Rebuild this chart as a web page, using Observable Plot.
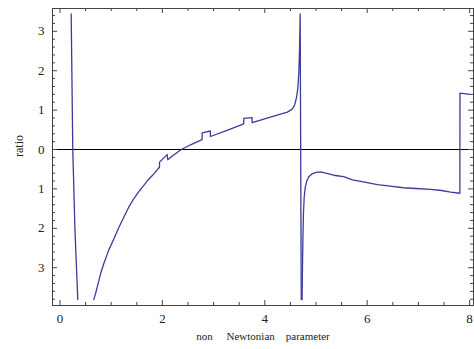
<!DOCTYPE html>
<html>
<head>
<meta charset="utf-8">
<script src="https://cdn.jsdelivr.net/npm/d3@7"></script>
<script src="https://cdn.jsdelivr.net/npm/@observablehq/plot@0.6"></script>
<style>
  html, body { margin: 0; padding: 0; background: #fff; }
</style>
</head>
<body>
<div id="chart"></div>
<script>
// ---- data ----
const branch1X = [0.219, 0.250, 0.293, 0.348];
const branch1Y = [3.44, 0.00, -2.06, -3.81];

const branch2X = [0.660, 0.70, 0.75, 0.80, 0.855, 0.95, 1.051, 1.15, 1.246, 1.34, 1.441, 1.54, 1.637, 1.73, 1.832, 1.943, 1.945, 2.094, 2.105, 2.20, 2.37, 2.55, 2.775, 2.777, 2.937, 2.939, 3.25, 3.588, 3.590, 3.752, 3.754, 4.11, 4.44, 4.53, 4.58, 4.62, 4.645, 4.665, 4.678, 4.691, 4.712];
const branch2Y = [-3.81, -3.63, -3.38, -3.12, -2.90, -2.56, -2.27, -1.98, -1.72, -1.47, -1.25, -1.07, -0.91, -0.76, -0.62, -0.45, -0.32, -0.13, -0.26, -0.16, 0.00, 0.12, 0.25, 0.42, 0.47, 0.33, 0.48, 0.65, 0.79, 0.81, 0.68, 0.82, 0.95, 1.02, 1.12, 1.32, 1.55, 1.95, 2.51, 3.44, -3.81];

const branch3X = [4.728, 4.736, 4.745, 4.755, 4.770, 4.79, 4.82, 4.86, 4.92, 5.00, 5.09, 5.25, 5.38, 5.54, 5.71, 5.95, 6.20, 6.45, 6.71, 6.95, 7.24, 7.45, 7.63, 7.81, 7.812, 8.00];
const branch3Y = [-3.81, -3.00, -2.20, -1.62, -1.20, -0.96, -0.80, -0.69, -0.62, -0.58, -0.57, -0.62, -0.66, -0.69, -0.77, -0.83, -0.89, -0.93, -0.97, -0.99, -1.01, -1.04, -1.08, -1.11, 1.43, 1.40];

const xMajorTicks = [0, 2, 4, 6, 8];
const xTickLabels = ["0", "2", "4", "6", "8"];
const yMajorTicks = [3, 2, 1, 0, -1, -2, -3];
const yTickLabels = ["3", "2", "1", "0", "1", "2", "3"];
const xLabel = "non     Newtonian    parameter";
const yLabel = "ratio";

// ---- build rows ----
function rows(xs, ys, id) { return xs.map((x, i) => ({x, y: ys[i], id})); }
const curve = [
  ...rows(branch1X, branch1Y, "b1"),
  ...rows(branch2X, branch2Y, "b2"),
  ...rows(branch3X, branch3Y, "b3")
];
const xMinor = d3.range(0, 8.01, 0.5).filter(v => !xMajorTicks.includes(v));
const yMinor = d3.range(-3.8, 3.45, 0.2).map(v => Math.round(v * 10) / 10).filter(v => !yMajorTicks.includes(v));

const W = 474, H = 349;
const mT = 8, mR = 1, mB = 44, mL = 52;
const fh = H - mT - mB, fw = W - mL - mR;
const axisCol = "#444";
const lineCol = "#3c3c9a";
const serif = "'Liberation Serif', 'Times New Roman', 'DejaVu Serif', serif";

const chart = Plot.plot({
  width: W, height: H,
  marginTop: mT, marginRight: mR, marginBottom: mB, marginLeft: mL,
  style: {fontFamily: serif, fontSize: "13px", color: "#222", background: "#fff"},
  x: {domain: [-0.146, 8.076]},
  y: {domain: [-3.959, 3.579]},
  marks: [
    Plot.ruleY([0], {stroke: "#000", strokeWidth: 1}),
    Plot.line(curve, {x: "x", y: "y", z: "id", stroke: lineCol, strokeWidth: 1.3, strokeLinejoin: "round", clip: true}),
    Plot.frame({stroke: axisCol, strokeWidth: 1}),
    // inward frame ticks: bottom / top
    Plot.tickX(xMajorTicks, {x: d => d, insetTop: fh - 5, stroke: axisCol}),
    Plot.tickX(xMinor, {x: d => d, insetTop: fh - 3, stroke: axisCol}),
    Plot.tickX(xMajorTicks, {x: d => d, insetBottom: fh - 5, stroke: axisCol}),
    Plot.tickX(xMinor, {x: d => d, insetBottom: fh - 3, stroke: axisCol}),
    // inward frame ticks: left / right
    Plot.tickY(yMajorTicks, {y: d => d, insetRight: fw - 5, stroke: axisCol}),
    Plot.tickY(yMinor, {y: d => d, insetRight: fw - 3, stroke: axisCol}),
    Plot.tickY(yMajorTicks, {y: d => d, insetLeft: fw - 5, stroke: axisCol}),
    Plot.tickY(yMinor, {y: d => d, insetLeft: fw - 3, stroke: axisCol}),
    Plot.axisX({ticks: xMajorTicks, tickSize: 0, tickPadding: 8, label: null,
      tickFormat: d => xTickLabels[xMajorTicks.indexOf(d)], fontSize: 13, fontFamily: serif}),
    Plot.axisY({ticks: yMajorTicks, tickSize: 0, tickPadding: 8, label: null,
      tickFormat: d => yTickLabels[yMajorTicks.indexOf(d)], fontSize: 13, fontFamily: serif}),
    Plot.text([xLabel], {frameAnchor: "bottom", dy: 34, text: d => d, fontSize: 11, fontFamily: serif, fill: "#222"}),
    Plot.text([yLabel], {frameAnchor: "left", dx: -33, rotate: -90, text: d => d, fontSize: 12, fontFamily: serif, fill: "#222"})
  ]
});
document.getElementById("chart").appendChild(chart);
</script>
</body>
</html>
